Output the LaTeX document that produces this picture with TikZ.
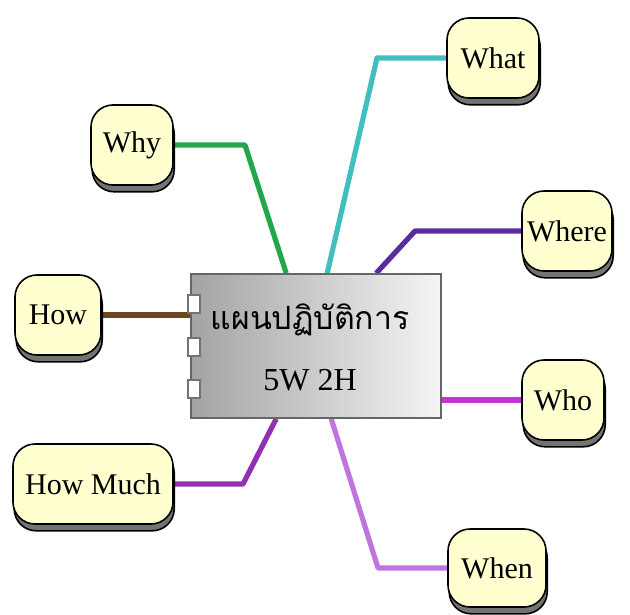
\documentclass[tikz,border=0pt]{standalone}
\usepackage{fontspec}
\setmainfont{Liberation Serif}
\newfontfamily\thaifont[Script=Thai]{Loma}
\usetikzlibrary{positioning,shadows,backgrounds}

\definecolor{bubblefill}{RGB}{255,255,208}
\definecolor{whatline}{RGB}{64,190,192}
\definecolor{whyline}{RGB}{34,168,74}
\definecolor{whereline}{RGB}{90,44,160}
\definecolor{howline}{RGB}{107,72,28}
\definecolor{wholine}{RGB}{196,52,212}
\definecolor{muchline}{RGB}{146,48,178}
\definecolor{whenline}{RGB}{192,116,224}

\begin{document}
\begin{tikzpicture}[x=0.5pt,y=-0.5pt]
  \useasboundingbox (0,0) rectangle (630,614);

  \tikzstyle{Bubble}=[draw=black, line width=0.8pt, fill=bubblefill,
    rounded corners=11pt, minimum width=42pt, minimum height=40pt,
    inner sep=2pt, font=\fontsize{15}{18}\selectfont,
    drop shadow={shadow xshift=0.6pt, shadow yshift=-3.4pt,
      fill=black!55, draw=black, opacity=1}]
  \tikzstyle{Link}=[line width=2.6pt, line join=round]
  \tikzstyle{Port}=[draw=black!55, line width=1.1pt, fill=white,
    minimum width=6pt, minimum height=9pt, inner sep=0pt]

  \node[Bubble, minimum width=46pt] (what) at (493,58) {What};
  \node[Bubble, minimum width=41pt] (why) at (132,145) {Why};
  \node[Bubble, minimum width=45pt] (where) at (567,231) {Where};
  \node[Bubble, minimum width=43pt] (how) at (58,315) {How};
  \node[Bubble, minimum width=41pt] (who) at (563,400) {Who};
  \node[Bubble, minimum width=80pt] (howmuch) at (93,484) {How Much};
  \node[Bubble, minimum width=49pt, minimum height=39pt] (when) at (497,568) {When};

  \node[draw=black!60, line width=0.8pt, left color=black!36, right color=black!4,
    minimum width=125pt, minimum height=72pt] (plan) at (316,346) {};
  \node[font=\thaifont\fontsize{16}{19}\selectfont] (title) at (310,320) {แผนปฏิบัติการ};
  \node[font=\fontsize{16}{19}\selectfont] (subtitle) at (310,380) {5W 2H};

  \node[Port] (port1) at (194,304) {};
  \node[Port] (port2) at (194,347) {};
  \node[Port] (port3) at (194,389) {};

  \begin{scope}[on background layer]
    \draw[Link, whyline] ([xshift=48pt]plan.north west) -- (245,145) -- (why.east);
    \draw[Link, whatline] ([xshift=68.5pt]plan.north west) -- (377,58) -- (what.west);
    \draw[Link, whereline] ([xshift=93pt]plan.north west) -- (415,231) -- (where.west);
    \draw[Link, howline] (how.east) -- (how.east -| plan.west);
    \draw[Link, wholine] (who.west -| plan.east) -- (who.west);
    \draw[Link, muchline] ([xshift=43pt]plan.south west) -- (243,484) -- (howmuch.east);
    \draw[Link, whenline] ([xshift=70.5pt]plan.south west) -- (378,568) -- (when.west);
  \end{scope}
\end{tikzpicture}
\end{document}
